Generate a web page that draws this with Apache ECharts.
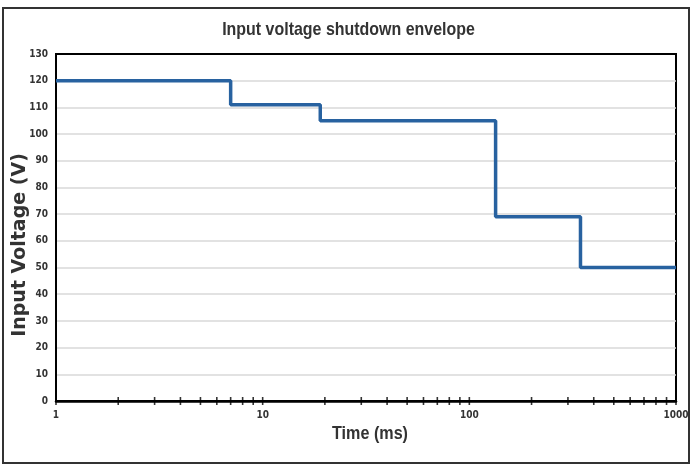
<!DOCTYPE html>
<html><head><meta charset="utf-8">
<script src="https://cdn.jsdelivr.net/npm/echarts@6/dist/echarts.min.js"></script>
<style>html,body{margin:0;padding:0;background:#fff}#c{width:693px;height:466px}</style>
</head><body><div id="c"></div>
<script>
// Step envelope: [time ms, voltage V]
const stepTimes = [1, 7, 7, 19, 19, 134, 134, 345, 345, 1000];
const stepVolts = [120, 120, 111, 111, 105, 105, 69, 69, 50, 50];
const tickTimes = [1,2,3,4,5,6,7,8,9,10,20,30,40,50,60,70,80,90,100,200,300,400,500,600,700,800,900,1000];
const xLabels = ['1', '10', '100', '1000'];
const yTicks = [0,10,20,30,40,50,60,70,80,90,100,110,120,130];
const titleText = 'Input voltage shutdown envelope';
const xName = 'Time (ms)';
const yName = 'Input Voltage (V)';

const narrow = '"DejaVu Sans Condensed", "Liberation Sans", Arial, sans-serif';
const chart = echarts.init(document.getElementById('c'));
chart.setOption({
  animation: false,
  graphic: [
    {type: 'rect', shape: {x: 3, y: 8, width: 686, height: 455}, style: {fill: 'none', stroke: '#333', lineWidth: 2}, silent: true},
    {type: 'text', x: 348.5, y: 30, scaleX: 0.84, silent: true,
      style: {text: titleText, fontFamily: '"Liberation Sans", Arial, sans-serif', fontSize: 19, fontWeight: 'bold', fill: '#333', align: 'center', verticalAlign: 'middle'}},
    {type: 'text', x: 370, y: 434, scaleX: 0.85, silent: true,
      style: {text: xName, fontFamily: '"Liberation Sans", Arial, sans-serif', fontSize: 19, fontWeight: 'bold', fill: '#333', align: 'center', verticalAlign: 'middle'}},
    {type: 'text', x: 20, y: 245, rotation: Math.PI / 2, silent: true,
      style: {text: yName, fontFamily: '"DejaVu Sans", sans-serif', fontSize: 19, fontWeight: 'bold', fill: '#333', align: 'center', verticalAlign: 'middle'}}
  ],
  grid: {left: 56, right: 17, top: 54, bottom: 65, outerBoundsMode: 'none', containLabel: false,
    show: true, borderColor: '#000', borderWidth: 2, backgroundColor: 'transparent'},
  xAxis: {
    type: 'log', logBase: 10, min: 1, max: 1000,
    axisLine: {show: true, lineStyle: {color: '#000', width: 2.5}},
    axisTick: {show: false},
    splitLine: {show: false},
    axisLabel: {fontFamily: narrow, fontSize: 10, fontWeight: 'bold', color: '#333', margin: 9,
      formatter: v => xLabels.includes(String(Math.round(v))) ? String(Math.round(v)) : ''}
  },
  yAxis: {
    type: 'value', min: 0, max: 130, interval: 10,
    axisLine: {show: true, lineStyle: {color: '#000', width: 2}},
    axisTick: {show: false},
    splitLine: {show: true, showMinLine: false, showMaxLine: false, lineStyle: {color: '#d9d9d9', width: 1.5}},
    axisLabel: {fontFamily: narrow, fontSize: 10, fontWeight: 'bold', color: '#333', margin: 8,
      formatter: v => yTicks.includes(v) ? String(v) : ''}
  },
  series: [
    {
      type: 'line', data: stepTimes.map((t, i) => [t, stepVolts[i]]),
      showSymbol: false, lineStyle: {color: '#2862a0', width: 3.5}, silent: true, z: 3
    },
    {
      type: 'scatter', data: tickTimes.map(t => [t, 0]),
      symbol: 'rect', symbolSize: [1.6, 8], itemStyle: {color: '#000'}, silent: true, z: 4
    }
  ]
});
</script></body></html>
